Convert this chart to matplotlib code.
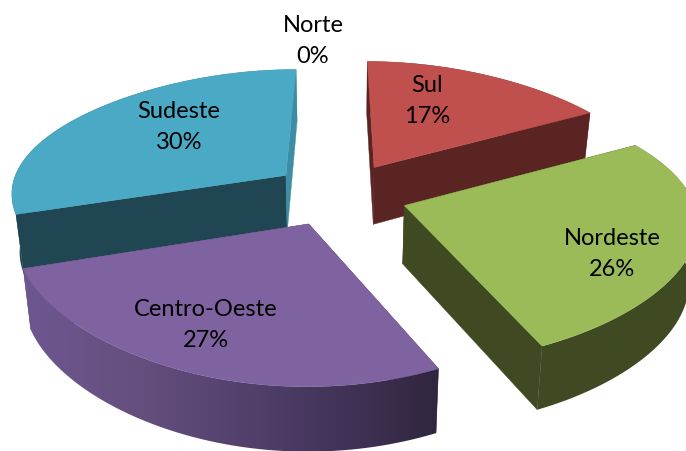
import numpy as np
import matplotlib
matplotlib.use("Agg")
import matplotlib.pyplot as plt
from matplotlib.patches import Polygon
from matplotlib.colors import LinearSegmentedColormap

categories = ["Norte", "Sul", "Nordeste", "Centro-Oeste", "Sudeste"]
values = [0, 17, 26, 27, 30]
labels_pct = ["0%", "17%", "26%", "27%", "30%"]
top_colors = {"Sul": "#c0504d", "Nordeste": "#9bbb59", "Centro-Oeste": "#7f63a0", "Sudeste": "#4aa9c4"}
start_face = {"Sul": "#5a2423", "Nordeste": "#3f4a22", "Centro-Oeste": "#3c2f4e", "Sudeste": "#1f4652"}
end_face = {"Sul": "#5a2423", "Nordeste": "#3f4a22", "Centro-Oeste": "#5f4c7c", "Sudeste": "#3d8ea4"}
wall_stops = {
    "Sul": ["#5a2423", "#5a2423"],
    "Nordeste": ["#3f4a22", "#3f4a22"],
    "Centro-Oeste": ["#6e5792", "#66507f", "#55436f", "#43345a", "#30263f"],
    "Sudeste": ["#1f4652", "#1f4652", "#3d8ea4"],
}

CX, CY = 343.0, 192.0
RADIUS = 279.0
EXPLODE = 65.0
SQUASH = 0.47
PERSP_Y = 0.15
DEPTH = 58.0
# fine placement of each exploded slice (pixels) and its radius factor
nudge = {"Sul": (-2, 1), "Nordeste": (-3, 4), "Centro-Oeste": (-7, 3), "Sudeste": (-4, 1), "Norte": (0, 0)}
radius_factor = {"Sul": 0.98, "Nordeste": 1.0, "Centro-Oeste": 0.985, "Sudeste": 0.96, "Norte": 1.0}


def project(X, Y, Z, name):
    """X,Y in the pie plane; Z=0 is the lid, Z=-1 the floor."""
    X, Y = np.asarray(X, float), np.asarray(Y, float)
    u = Y / RADIUS
    sx = 1.03 - 0.14 * u - 0.05 * u ** 2
    sy = SQUASH / (1.0 + PERSP_Y * u)
    conv = 1.0 + 0.024 * Z
    x = CX + sx * X * conv + nudge[name][0]
    y = CY - sy * Y - Z * DEPTH * (1.0 - 0.10 * u) + nudge[name][1]
    return x, y


fig = plt.figure(figsize=(6.86, 4.51), dpi=100)
ax = fig.add_axes([0, 0, 1, 1])
ax.axis("off")

total = sum(values)
edges = np.concatenate([[0], np.cumsum(values)]) / total * 2 * np.pi
slices = {}
for i, name in enumerate(categories):
    a0, a1 = edges[i], edges[i + 1]
    mid = (a0 + a1) / 2
    ox, oy = EXPLODE * np.sin(mid), EXPLODE * np.cos(mid)
    th = np.linspace(a0, a1, 120)
    r = RADIUS * radius_factor[name]
    slices[name] = (ox, oy, ox + r * np.sin(th), oy + r * np.cos(th))


def poly(xs, ys, color, z):
    p = Polygon(np.column_stack([xs, ys]), closed=True, fc=color, ec=color, lw=0.3, zorder=z)
    ax.add_patch(p)
    return p


grad = np.linspace(0, 1, 256).reshape(1, -1)
order = ["Sudeste", "Sul", "Nordeste", "Centro-Oeste"]
for k, name in enumerate(order):
    ox, oy, rx, ry = slices[name]
    base = 10 * (k + 1)
    # radial cut faces
    for idx, colors in ((0, start_face), (-1, end_face)):
        pts = [project(a, b, c, name) for a, b, c in
               ((ox, oy, 0), (rx[idx], ry[idx], 0), (rx[idx], ry[idx], -1), (ox, oy, -1))]
        poly([p[0] for p in pts], [p[1] for p in pts], colors[name], base)
    # outer wall with horizontal gradient
    x0, y0 = project(rx, ry, 0, name)
    x1, y1 = project(rx, ry, -1, name)
    wx = np.r_[x0, x1[::-1]]
    wy = np.r_[y0, y1[::-1]]
    clip = Polygon(np.column_stack([wx, wy]), closed=True, fc="none", ec="none", transform=ax.transData)
    ax.add_patch(clip)
    cmap = LinearSegmentedColormap.from_list(name, wall_stops[name])
    im = ax.imshow(grad, cmap=cmap, aspect="auto", extent=(wx.min(), wx.max(), wy.max(), wy.min()),
                   zorder=base + 1, interpolation="bilinear")
    im.set_clip_path(clip)
    # lid
    tx, ty = project(np.r_[ox, rx], np.r_[oy, ry], 0, name)
    poly(tx, ty, top_colors[name], base + 2)

ax.set_xlim(0, 686)
ax.set_ylim(451, 0)

label_pos = {"Norte": (313, 41), "Sul": (427, 101), "Nordeste": (612, 254),
             "Centro-Oeste": (206, 325), "Sudeste": (179, 127)}
for name, pct in zip(categories, labels_pct):
    lx, ly = label_pos[name]
    ax.text(lx, ly, f"{name}\n{pct}", ha="center", va="center", fontsize=17, family="Lato",
            color="black", linespacing=1.55, zorder=100)

fig.savefig("out.png", dpi=100)
